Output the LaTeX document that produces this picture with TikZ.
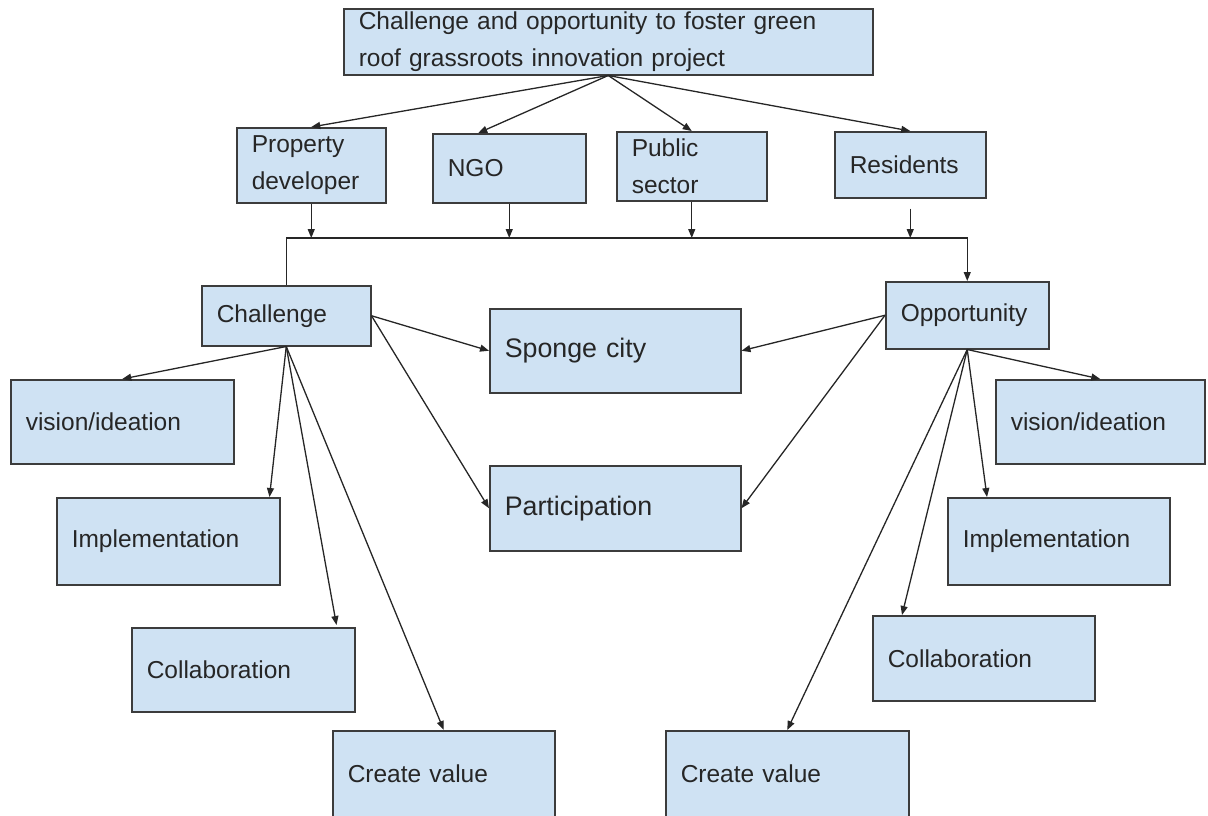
\documentclass[tikz,border=0pt]{standalone}
\usepackage{fontspec}
\setmainfont{Liberation Sans}
\usetikzlibrary{arrows.meta}
\definecolor{boxblue}{HTML}{CFE2F3}
\definecolor{boxline}{HTML}{3C3C3C}

\begin{document}
\begin{tikzpicture}[
    x=1pt, y=-1pt,
    >={Triangle[length=9pt, width=7pt]},
    box/.style={rectangle, draw=boxline, fill=boxblue, line width=1.5pt, anchor=north west, align=left, inner xsep=15pt, inner ysep=0pt, text=black!85, font=\fontsize{24.5}{37}\selectfont},
    bigbox/.style={box, font=\fontsize{26.8}{37}\selectfont},
    conn/.style={draw=black!85, line width=1.3pt}
    ]
    \useasboundingbox (0,0) rectangle (1208,815);

    %Nodes
    \node[box, text width=499pt, minimum height=66pt] at (343, 8) (top) {Challenge and opportunity to foster green\\roof grassroots innovation project};

    \node[box, text width=119pt, minimum height=75pt] at (236, 127) (prop) {Property\\developer};
    \node[box, text width=123pt, minimum height=69pt] at (432, 133) (ngo) {NGO};
    \node[box, text width=120pt, minimum height=69pt] at (616, 131) (pub) {Public\\sector};
    \node[box, text width=121pt, minimum height=66pt] at (834, 131) (res) {Residents};

    \node[box, text width=139pt, minimum height=60pt] at (201, 285) (chal) {Challenge};
    \node[box, text width=133pt, minimum height=67pt] at (885, 281) (opp) {Opportunity};

    \node[bigbox, text width=221pt, minimum height=84pt] at (489, 308) (sponge) {Sponge city};
    \node[bigbox, text width=221pt, minimum height=85pt] at (489, 465) (part) {Participation};

    \node[box, text width=193pt, minimum height=84pt] at (10, 379) (cvis) {vision/ideation};
    \node[box, text width=193pt, minimum height=87pt] at (56, 497) (cimp) {Implementation};
    \node[box, text width=193pt, minimum height=84pt] at (131, 627) (ccol) {Collaboration};
    \node[box, text width=192pt, minimum height=86pt] at (332, 730) (cval) {Create value};

    \node[box, text width=179pt, minimum height=84pt] at (995, 379) (ovis) {vision/ideation};
    \node[box, text width=192pt, minimum height=87pt] at (947, 497) (oimp) {Implementation};
    \node[box, text width=192pt, minimum height=85pt] at (872, 615) (ocol) {Collaboration};
    \node[box, text width=213pt, minimum height=86pt] at (665, 730) (oval) {Create value};

    %Lines
    \coordinate (bus) at (0, 238);
    \draw[conn, ->] (top.south) -- (prop.north);
    \draw[conn, ->] (top.south) -- ([xshift=-31pt]ngo.north);
    \draw[conn, ->] (top.south) -- (pub.north);
    \draw[conn, ->] (top.south) -- (res.north);

    \draw[conn, ->] (prop.south) -- (prop.south |- bus);
    \draw[conn, ->] (ngo.south) -- (ngo.south |- bus);
    \draw[conn, ->] (pub.south) -- (pub.south |- bus);
    \draw[conn, ->] ([yshift=-10pt]res.south) -- (res.south |- bus);
    \draw[conn, ->] (chal.north) |- (opp.north |- bus) -- (opp.north);

    \draw[conn, ->] (chal.south) -- (cvis.north);
    \draw[conn, ->] (chal.south) -- ([xshift=-11pt]cimp.north east);
    \draw[conn, ->] (chal.south) -- ([xshift=-19pt, yshift=2pt]ccol.north east);
    \draw[conn, ->] (chal.south) -- (cval.north);
    \draw[conn, ->] (chal.east) -- (sponge.west);
    \draw[conn, ->] (chal.east) -- (part.west);

    \draw[conn, ->] (opp.west) -- (sponge.east);
    \draw[conn, ->] (opp.west) -- (part.east);
    \draw[conn, ->] (opp.south) -- (ovis.north);
    \draw[conn, ->] (opp.south) -- ([xshift=40pt]oimp.north west);
    \draw[conn, ->] (opp.south) -- ([xshift=30pt]ocol.north west);
    \draw[conn, ->] (opp.south) -- (oval.north);
\end{tikzpicture}
\end{document}
